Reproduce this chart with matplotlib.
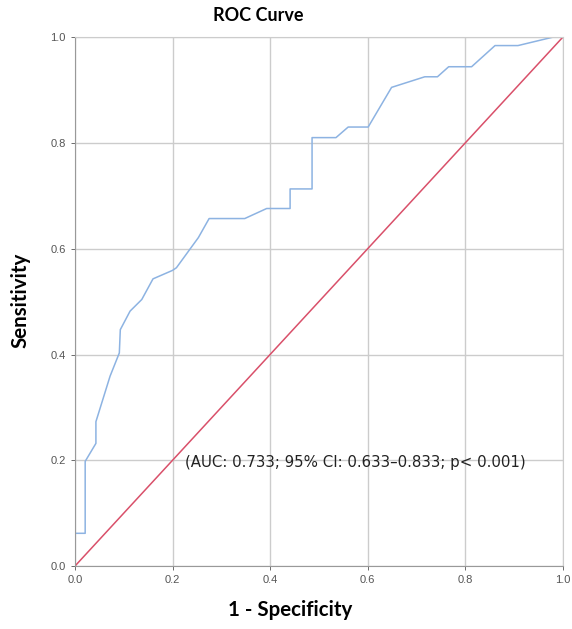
import matplotlib
matplotlib.use('Agg')
from matplotlib import pyplot as plt

# ROC curve points
fpr = [0.0, 0.0, 0.021, 0.021, 0.043, 0.043, 0.072, 0.091, 0.093, 0.113, 0.137,
       0.160, 0.200, 0.208, 0.253, 0.275, 0.348, 0.393, 0.441, 0.441, 0.486,
       0.486, 0.535, 0.560, 0.601, 0.649, 0.717, 0.743, 0.766, 0.813, 0.861,
       0.908, 0.980, 1.0]
tpr = [0.0, 0.062, 0.062, 0.198, 0.232, 0.273, 0.359, 0.403, 0.447, 0.482, 0.504,
       0.543, 0.559, 0.564, 0.621, 0.657, 0.657, 0.676, 0.676, 0.713, 0.713,
       0.810, 0.810, 0.830, 0.830, 0.905, 0.925, 0.925, 0.944, 0.944, 0.984,
       0.984, 1.0, 1.0]
ticks = [0.0, 0.2, 0.4, 0.6, 0.8, 1.0]
note = '(AUC: 0.733; 95% CI: 0.633\u20130.833; p< 0.001)'

plt.rcParams['font.family'] = ['Liberation Sans', 'DejaVu Sans']

fig = plt.figure(figsize=(5.72, 6.29), dpi=100)
ax = fig.add_axes([0.131, 0.100, 0.853, 0.841])

ax.plot(fpr, tpr, color='#8db3e2', lw=1.1)
ax.plot([0, 1], [0, 1], color='#d9506a', lw=1.1)

ax.set_xlim(0, 1)
ax.set_ylim(0, 1)
ax.set_xticks(ticks)
ax.set_yticks(ticks)
ax.set_xticklabels([f'{t:.1f}' for t in ticks])
ax.set_yticklabels([f'{t:.1f}' for t in ticks])
ax.tick_params(labelsize=8, colors='#555555', length=3, width=0.6)
ax.grid(True, color='#cccccc', lw=1)
ax.set_axisbelow(True)
for s in ax.spines.values():
    s.set_color('#cccccc')
ax.spines['left'].set_color('#999999')
ax.spines['bottom'].set_color('#999999')

ax.text(0.225, 0.195, note, fontsize=10.8, va='center', ha='left', color='#222222',
        family=['DejaVu Sans'])

#Labeling
fig.text(0.451, 0.976, 'ROC Curve', ha='center', va='center',
         fontsize=13, fontweight='bold', family=['Lato', 'DejaVu Sans'])
fig.text(0.507, 0.031, '1 - Specificity', ha='center', va='center',
         fontsize=14.8, fontweight='bold', family=['Lato', 'DejaVu Sans'])
fig.text(0.035, 0.523, 'Sensitivity', ha='center', va='center', rotation=90,
         fontsize=14.8, fontweight='bold', family=['Lato', 'DejaVu Sans'])

fig.savefig('out.png', dpi=100, facecolor='white')
